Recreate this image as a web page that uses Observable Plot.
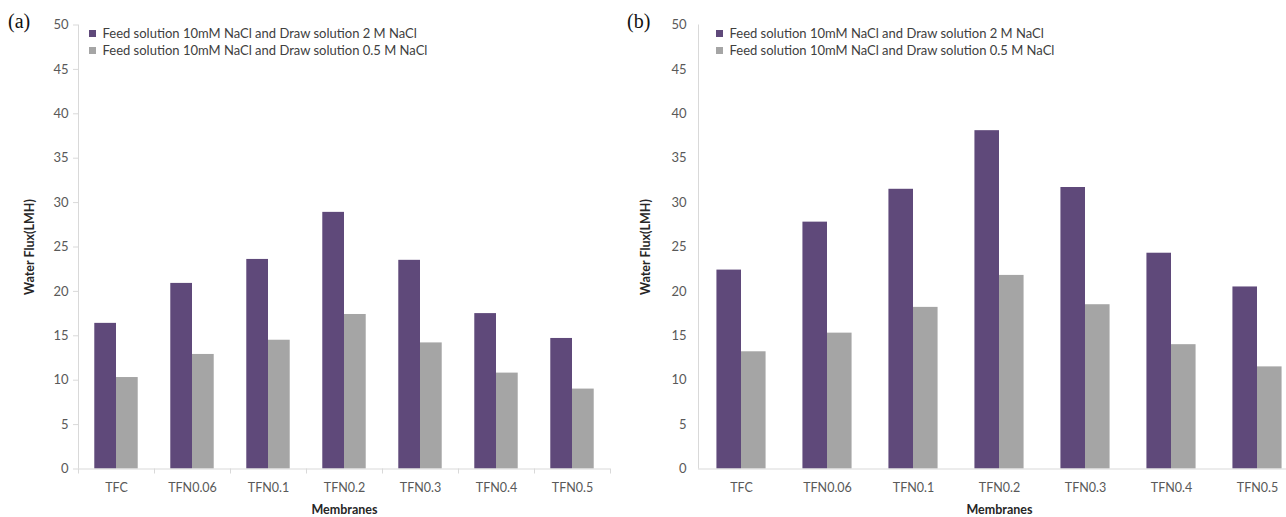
<!DOCTYPE html>
<html>
<head>
<meta charset="utf-8">
<script src="https://cdn.jsdelivr.net/npm/d3@7"></script>
<script src="https://cdn.jsdelivr.net/npm/@observablehq/plot@0.6"></script>
<style>
  body { margin: 0; background: #fff; }
  #chart { position: relative; width: 1286px; height: 517px; overflow: hidden; background: #fff; font-family: Lato, sans-serif; }
  .panel { position: absolute; top: 0; }
  .panel svg { max-width: none !important; }
  .tag { position: absolute; font-family: "Liberation Serif", serif; font-size: 20px; line-height: 1; color: #111; }
  .legend-box { position: absolute; white-space: nowrap; }
</style>
</head>
<body>
<div id="chart"></div>
<script>
// Membrane samples on the x axis
const membranes = ["TFC", "TFN0.06", "TFN0.1", "TFN0.2", "TFN0.3", "TFN0.4", "TFN0.5"];

// Test conditions (one bar per membrane each)
const seriesNames = [
  "Feed solution 10mM NaCl and Draw solution 2 M NaCl",
  "Feed solution 10mM NaCl and Draw solution 0.5 M NaCl"
];
const seriesColors = ["#5f497a", "#a5a5a5"];

// Water flux (LMH), panel (a)
const fluxA_2M  = [16.4, 20.9, 23.6, 28.9, 23.5, 17.5, 14.7];
const fluxA_05M = [10.3, 12.9, 14.5, 17.4, 14.2, 10.8, 9.0];

// Water flux (LMH), panel (b)
const fluxB_2M  = [22.4, 27.8, 31.5, 38.1, 31.7, 24.3, 20.5];
const fluxB_05M = [13.2, 15.3, 18.2, 21.8, 18.5, 14.0, 11.5];

// y-axis tick labels
const yTicks = [0, 5, 10, 15, 20, 25, 30, 35, 40, 45, 50];

const panelLabels = ["(a)", "(b)"];
const xTitle = "Membranes";
const yTitle = "Water Flux(LMH)";

// Bar width in category units: two bars plus a 150% gap fill one category
const barWidth = 1 / 3.5;

function panel({flux2M, flux05M, width, yTickSize, yTickPadding, boundaryTicks, titleDx}) {
  const rows = membranes.flatMap((m, i) => [
    {membrane: m, i, k: 0, series: seriesNames[0], value: flux2M[i]},
    {membrane: m, i, k: 1, series: seriesNames[1], value: flux05M[i]}
  ]);
  const idx = membranes.map((_, i) => i);
  const edges = d3.range(membranes.length + 1).map(i => i - 0.5);
  return Plot.plot({
    width,
    height: 517,
    marginLeft: 78,
    marginRight: 20,
    marginTop: 24.5,
    marginBottom: 48.5,
    style: {fontFamily: "Lato, sans-serif", fontSize: "12.5px", background: "transparent"},
    x: {type: "linear", domain: [-0.5, membranes.length - 0.5]},
    y: {domain: [0, 50]},
    color: {domain: seriesNames, range: seriesColors},
    marks: [
      Plot.rectY(rows, {
        x1: d => d.i + (d.k - 1) * barWidth,
        x2: d => d.i + d.k * barWidth,
        y: "value",
        fill: "series"
      }),
      Plot.ruleX([-0.5], {stroke: "#d9d9d9"}),
      Plot.ruleY([0], {stroke: "#d9d9d9"}),
      Plot.axisY(yTicks, {tickSize: yTickSize, tickPadding: yTickPadding, stroke: "#d9d9d9", fill: "#595959", fontSize: 13, label: null}),
      Plot.axisX(idx, {tickSize: 0, tickPadding: 14, tickFormat: i => membranes[i], fill: "#595959", label: null}),
      boundaryTicks ? Plot.axisX(edges, {tickSize: 5, tickFormat: () => "", stroke: "#d9d9d9", label: null}) : null,
      Plot.text([xTitle], {frameAnchor: "bottom", lineAnchor: "middle", dy: 40.5, fontWeight: "bold", fontSize: 12.5, fill: "#262626"}),
      Plot.text([yTitle], {frameAnchor: "left", textAnchor: "middle", lineAnchor: "middle", rotate: -90, dx: titleDx, fontWeight: "bold", fontSize: 12.5, fill: "#262626"})
    ]
  });
}

function legend() {
  const el = Plot.legend({
    legend: "swatches",
    color: {domain: seriesNames, range: seriesColors},
    swatchSize: 7,
    columns: 1
  });
  el.style.fontFamily = "Lato, sans-serif";
  el.style.fontSize = "13px";
  el.style.lineHeight = "16px";
  el.style.color = "#404040";
  el.style.margin = "0";
  return el;
}

const chart = document.getElementById("chart");

function place(el, cls, left, top, width) {
  const wrap = document.createElement("div");
  wrap.className = cls;
  wrap.style.left = left + "px";
  wrap.style.top = top + "px";
  if (width) wrap.style.width = width + "px";
  wrap.appendChild(el);
  chart.appendChild(wrap);
}

place(panel({flux2M: fluxA_2M, flux05M: fluxA_05M, width: 630, yTickSize: 5, yTickPadding: 5, boundaryTicks: true, titleDx: -49}), "panel", 0, 0, 630);
place(panel({flux2M: fluxB_2M, flux05M: fluxB_05M, width: 700, yTickSize: 0, yTickPadding: 12, boundaryTicks: false, titleDx: -53}), "panel", 620, 0, 700);

place(legend(), "legend-box", 89, 25, 400);
place(legend(), "legend-box", 716, 25, 400);

panelLabels.forEach((t, j) => {
  const d = document.createElement("div");
  d.className = "tag";
  d.textContent = t;
  d.style.left = (j === 0 ? 8 : 627) + "px";
  d.style.top = "11px";
  chart.appendChild(d);
});
</script>
</body>
</html>
